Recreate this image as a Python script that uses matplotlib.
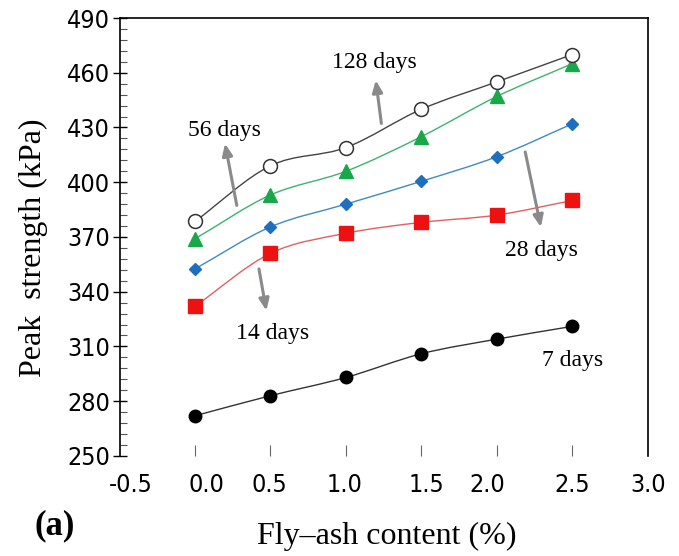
import matplotlib
matplotlib.use("Agg")
import matplotlib.pyplot as plt
from matplotlib.path import Path
from matplotlib.patches import PathPatch
import numpy as np

# ---------------- data ----------------
fly_ash = [0.0, 0.5, 1.0, 1.5, 2.0, 2.5]
days_7 = [272, 283, 293, 306, 314, 321]
days_14 = [332, 361, 372, 378, 382, 390]
days_28 = [352.5, 375.5, 388, 400.5, 414, 432]
days_56 = [369, 393, 406, 425, 447, 465]
days_128 = [378.5, 409, 419, 440, 455, 470]

y_ticks = [250, 280, 310, 340, 370, 400, 430, 460, 490]
x_tick_labels = ["-0.5", "0.0", "0.5", "1.0", "1.5", "2.0", "2.5", "3.0"]

# ---------------- layout / style ----------------
x_label_pos = [-0.428, 0.073, 0.491, 0.988, 1.532, 1.936, 2.497, 3.0]
serif = ["Liberation Serif", "DejaVu Serif"]
tick_font = dict(family="DejaVu Sans", stretch="condensed", size=18)

fig = plt.figure(figsize=(6.79, 5.56), dpi=100)
ax = fig.add_axes([0.176, 0.18, 0.778, 0.7876])
ax.set_xlim(-0.5, 3.0)
ax.set_ylim(250, 490)


def smooth_path(xs, ys):
    p = np.column_stack([xs, ys]).astype(float)
    n = len(p)
    m = np.zeros_like(p)
    m[0] = p[1] - p[0]
    m[-1] = p[-1] - p[-2]
    for i in range(1, n - 1):
        m[i] = (p[i + 1] - p[i - 1]) / 2.0
    verts = [p[0]]
    codes = [Path.MOVETO]
    for i in range(n - 1):
        verts += [p[i] + m[i] / 3.0, p[i + 1] - m[i + 1] / 3.0, p[i + 1]]
        codes += [Path.CURVE4] * 3
    return Path(verts, codes)


series = [
    (days_7, "#333333", dict(marker="o", ms=9, mfc="black", mec="black")),
    (days_14, "#e06060", dict(marker="s", ms=10, mfc="#ee1111", mec="#ee1111")),
    (days_28, "#3f8ac4", dict(marker="D", ms=6.5, mfc="#1f6fc0", mec="#1f6fc0")),
    (days_56, "#3db36f", dict(marker="^", ms=10, mfc="#18a84a", mec="#18a84a")),
    (days_128, "#444444", dict(marker="o", ms=10, mfc="white", mec="#333333", mew=1.1)),
]
for ys, lc, mk in series:
    ax.add_patch(PathPatch(smooth_path(fly_ash, ys), fill=False, edgecolor=lc,
                           lw=1.0, zorder=2))
    ax.plot(fly_ash, ys, ls="none", zorder=3, **mk)

# annotations
arrow_kw = dict(arrowstyle="-|>,head_length=0.7,head_width=0.3", color="#8a8a8a", lw=2.2,
                shrinkA=0, shrinkB=0)
ax.annotate("", xy=(1.198, 455.9), xytext=(1.235, 432.2), arrowprops=arrow_kw)
ax.annotate("", xy=(0.199, 421.2), xytext=(0.277, 387.3), arrowprops=arrow_kw)
ax.annotate("", xy=(2.292, 375.4), xytext=(2.188, 416.6), arrowprops=arrow_kw)
ax.annotate("", xy=(0.473, 329.6), xytext=(0.424, 352.5), arrowprops=arrow_kw)

txt_kw = dict(family=serif, fontsize=17, ha="center", va="center")
ax.text(1.187, 465.8, "128 days", **txt_kw)
ax.text(0.192, 428.5, "56 days", **txt_kw)
ax.text(2.296, 362.6, "28 days", **txt_kw)
ax.text(0.517, 317.2, "14 days", **txt_kw)
ax.text(2.502, 302.2, "7 days", **txt_kw)

# axes styling
ax.spines["bottom"].set_visible(False)
for s in ["left", "top", "right"]:
    ax.spines[s].set_linewidth(1.2)
    ax.spines[s].set_color("black")

ax.set_yticks(y_ticks)
ax.set_yticks(np.arange(250, 491, 6), minor=True)
ax.tick_params(axis="y", which="major", direction="inout", length=10, width=1.0, pad=2)
ax.tick_params(axis="y", which="minor", direction="in", length=5, width=0.8, color="#555555")
ax.tick_params(axis="y", right=False)
for lab in ax.get_yticklabels():
    lab.set_fontproperties(matplotlib.font_manager.FontProperties(**tick_font))

ax.set_xticks(fly_ash)
ax.set_xticklabels([])
ax.tick_params(axis="x", which="major", direction="in", length=8, width=0.8,
               color="#666666", top=False)
ax.tick_params(axis="x", which="minor", bottom=False, top=False)

for pos, lab in zip(x_label_pos, x_tick_labels):
    ax.text(pos, -0.066, lab, transform=ax.get_xaxis_transform(), ha="center",
            va="center", fontproperties=matplotlib.font_manager.FontProperties(**tick_font))

ax.set_ylabel("Peak  strength (kPa)", family=serif, fontsize=23)
ax.yaxis.set_label_coords(-0.135, 0.475)
fig.text(0.570, 0.036, "Fly\u2013ash content (%)", family=serif, fontsize=23,
         ha="center", va="center")
fig.text(0.080, 0.054, "(a)", family=serif, fontsize=25, fontweight="bold",
         ha="center", va="center")

fig.savefig("out.png", dpi=100)
